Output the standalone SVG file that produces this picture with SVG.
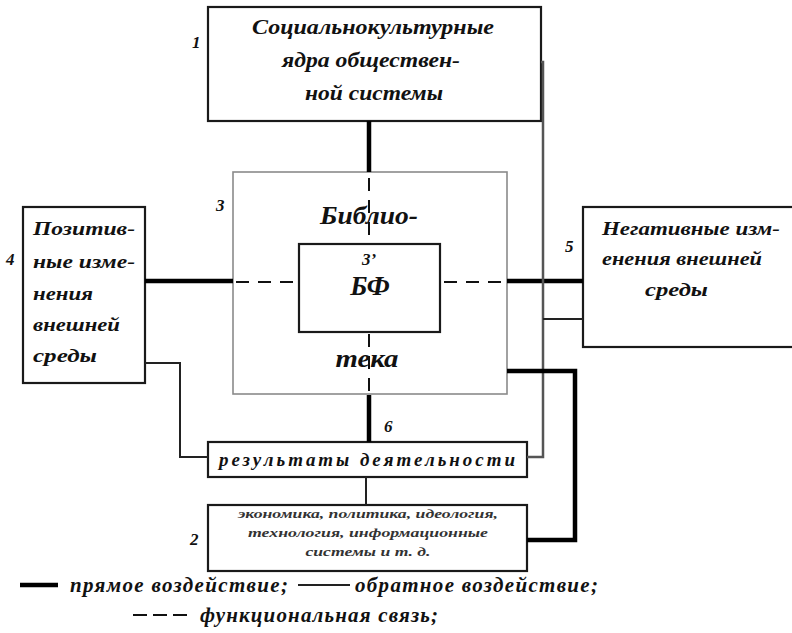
<svg xmlns="http://www.w3.org/2000/svg" width="792" height="633" viewBox="0 0 792 633">
<style>
text{font-family:"Liberation Serif","Times New Roman",serif;font-weight:bold;font-style:italic;fill:#111}
.box{fill:#fff;stroke:#1a1a1a;stroke-width:2.2}
.lib{fill:#fff;stroke:#8a8a8a;stroke-width:1.6}
.thick{fill:none;stroke:#000;stroke-width:4.5}
.thin{fill:none;stroke:#222;stroke-width:2}
.gray{fill:none;stroke:#555;stroke-width:2.5}
.dash{fill:none;stroke:#111;stroke-width:2;stroke-dasharray:13 9}
.num{font-size:17px}
</style>
<g id="node1">
<rect class="box" x="208" y="7" width="333" height="114"/>
<text x="373" y="34" font-size="20" text-anchor="middle" textLength="242" lengthAdjust="spacingAndGlyphs">Социальнокультурные</text>
<text x="371" y="67" font-size="20" text-anchor="middle" textLength="178" lengthAdjust="spacingAndGlyphs">ядра обществен-</text>
<text x="374" y="100" font-size="20" text-anchor="middle" textLength="138" lengthAdjust="spacingAndGlyphs">ной системы</text>
<text class="num" x="192" y="48">1</text>
</g>
<g id="node3">
<rect class="lib" x="233" y="172" width="274" height="222"/>
<text class="num" x="216" y="211">3</text>
<text x="369" y="224" font-size="26" text-anchor="middle" textLength="98" lengthAdjust="spacingAndGlyphs">Библио-</text>
<text x="367" y="367" font-size="25" text-anchor="middle" textLength="63" lengthAdjust="spacingAndGlyphs">тека</text>
</g>
<g id="node3p">
<rect class="box" x="299" y="244" width="141" height="88"/>
<text class="num" x="369" y="265" text-anchor="middle">3’</text>
<text x="370" y="295" font-size="27" text-anchor="middle">БФ</text>
</g>
<g id="node4">
<rect class="box" x="23" y="207" width="122" height="176"/>
<text class="num" x="6" y="265">4</text>
<g font-size="19">
<text x="33" y="235" textLength="102" lengthAdjust="spacingAndGlyphs">Позитив-</text>
<text x="33" y="268" textLength="102" lengthAdjust="spacingAndGlyphs">ные изме-</text>
<text x="33" y="300" textLength="60" lengthAdjust="spacingAndGlyphs">нения</text>
<text x="33" y="331" textLength="87" lengthAdjust="spacingAndGlyphs">внешней</text>
<text x="33" y="362" textLength="64" lengthAdjust="spacingAndGlyphs">среды</text>
</g>
</g>
<g id="node5">
<rect class="box" x="583" y="207" width="220" height="140"/>
<text class="num" x="565" y="252">5</text>
<g font-size="18">
<text x="602" y="235" textLength="178" lengthAdjust="spacingAndGlyphs">Негативные изм-</text>
<text x="602" y="265" textLength="160" lengthAdjust="spacingAndGlyphs">енения внешней</text>
<text x="645" y="296" textLength="63" lengthAdjust="spacingAndGlyphs">среды</text>
</g>
</g>
<g id="node6">
<rect class="box" x="208" y="442" width="319" height="35"/>
<text x="367" y="466" font-size="19" text-anchor="middle" textLength="296" lengthAdjust="spacing">результаты деятельности</text>
<text class="num" x="384" y="432">6</text>
</g>
<g id="node2">
<rect class="box" x="208" y="505" width="319" height="66"/>
<text class="num" x="190" y="545">2</text>
<g font-size="13">
<text x="368" y="518" text-anchor="middle" style="fill:#333" textLength="260" lengthAdjust="spacingAndGlyphs">экономика, политика, идеология,</text>
<text x="368" y="537" text-anchor="middle" style="fill:#333" textLength="240" lengthAdjust="spacingAndGlyphs">технология, информационные</text>
<text x="368" y="556" text-anchor="middle" style="fill:#333" textLength="125" lengthAdjust="spacingAndGlyphs">системы и т. д.</text>
</g>
</g>
<g id="connectors">
<line class="thick" x1="369" y1="121" x2="369" y2="172"/>
<line class="dash" x1="369" y1="178" x2="369" y2="243"/>
<line class="dash" x1="369" y1="334" x2="369" y2="393"/>
<line class="dash" x1="236" y1="282" x2="298" y2="282"/>
<line class="dash" x1="444" y1="282" x2="506" y2="282"/>
<line class="thick" x1="145" y1="281" x2="233" y2="281"/>
<line class="thick" x1="507" y1="281" x2="583" y2="281"/>
<polyline class="thin" points="145,363 180,363 180,457 208,457"/>
<polyline class="gray" points="527,457 543,457 543,62 541,62"/>
<line class="thin" x1="543" y1="319" x2="583" y2="319"/>
<polyline class="thick" points="507,371 575,371 575,540 527,540"/>
<line class="thick" x1="369" y1="395" x2="369" y2="442"/>
<line class="thin" x1="366" y1="477" x2="366" y2="505"/>
</g>
<g id="legend">
<line x1="20" y1="585" x2="58" y2="585" stroke="#000" stroke-width="4.5"/>
<text x="70" y="592" font-size="21" textLength="218" lengthAdjust="spacing">прямое воздействие;</text>
<line x1="298" y1="585" x2="350" y2="585" stroke="#222" stroke-width="2"/>
<text x="355" y="592" font-size="21" textLength="243" lengthAdjust="spacing">обратное воздействие;</text>
<line x1="133" y1="615" x2="187" y2="615" stroke="#111" stroke-width="2.2" stroke-dasharray="14 6"/>
<text x="200" y="622" font-size="21" textLength="238" lengthAdjust="spacing">функциональная связь;</text>
</g>
</svg>
